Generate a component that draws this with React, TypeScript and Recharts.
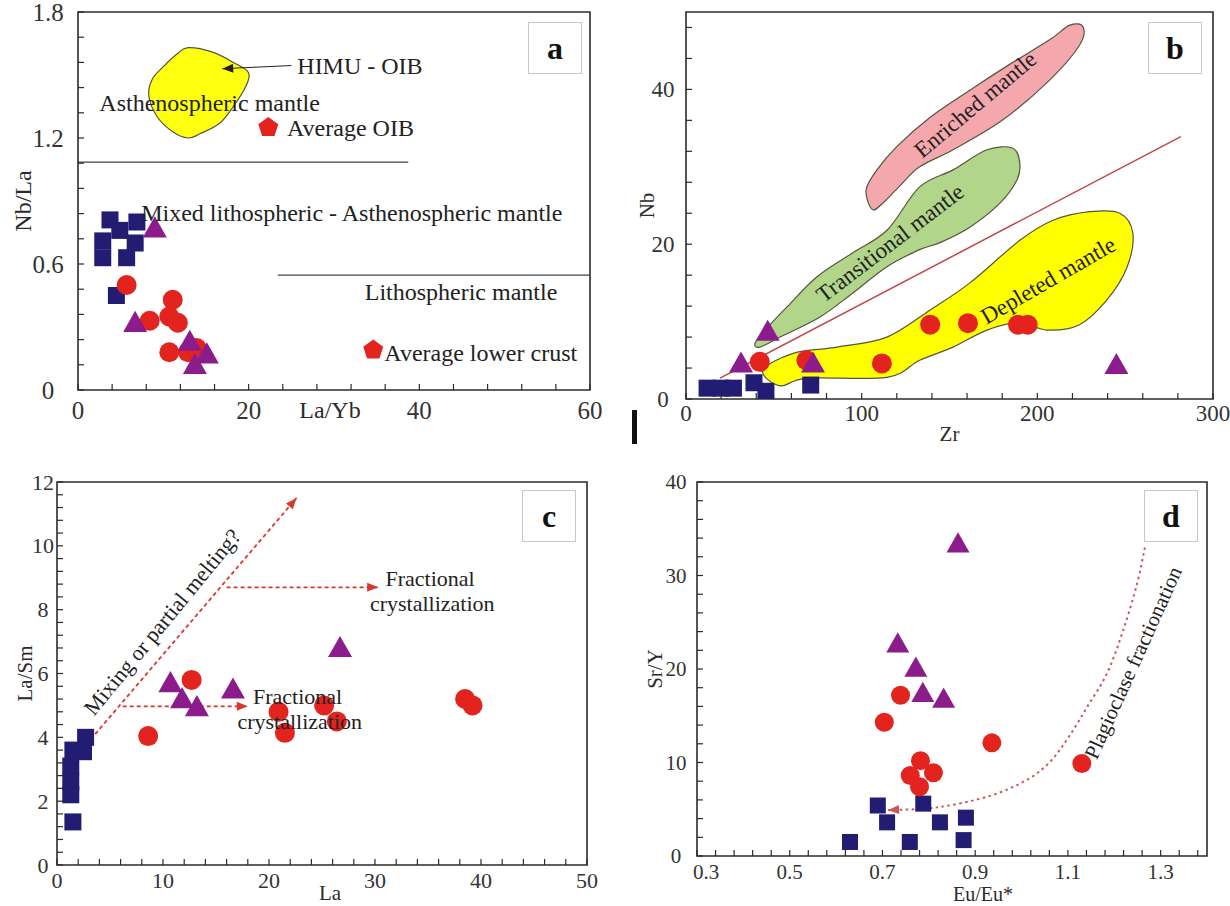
import React from 'react';
import {
  ScatterChart, Scatter, XAxis, YAxis, ReferenceDot, ReferenceArea, ReferenceLine, Label,
} from 'recharts';

type Pt = { x: number; y: number };

const FONT = '"Liberation Serif", "Times New Roman", serif';
const INK = '#2b2b2b';
const NAVY = '#221d72';
const PURPLE = '#8c1c8b';
const RED = '#e3231d';
const DASH_RED = '#d7372f';
const OUTLINE = '#55553f';

// ---------- (a) Nb/La vs La/Yb ----------
const aSquares: Pt[] = [
  { x: 3.75, y: 0.81 }, { x: 6.9, y: 0.8 }, { x: 4.9, y: 0.76 }, { x: 2.9, y: 0.71 },
  { x: 6.7, y: 0.7 }, { x: 2.9, y: 0.63 }, { x: 5.7, y: 0.63 }, { x: 4.5, y: 0.45 },
];
const aTriangles: Pt[] = [
  { x: 9.0, y: 0.77 }, { x: 6.7, y: 0.32 }, { x: 13.1, y: 0.23 }, { x: 15.1, y: 0.17 }, { x: 13.7, y: 0.12 },
];
const aCircles: Pt[] = [
  { x: 5.7, y: 0.5 }, { x: 11.1, y: 0.43 }, { x: 8.4, y: 0.33 }, { x: 10.7, y: 0.35 },
  { x: 11.7, y: 0.32 }, { x: 10.7, y: 0.18 }, { x: 12.9, y: 0.18 }, { x: 13.9, y: 0.2 },
];
const aReferences: Pt[] = [{ x: 22.3, y: 1.25 }, { x: 34.6, y: 0.19 }];
const aHimuOutline: Pt[] = [
  { x: 12.9, y: 1.63 }, { x: 15.7, y: 1.61 }, { x: 18.2, y: 1.56 }, { x: 20.0, y: 1.51 },
  { x: 19.6, y: 1.44 }, { x: 18.2, y: 1.35 }, { x: 16.6, y: 1.27 }, { x: 14.3, y: 1.22 },
  { x: 12.9, y: 1.2 }, { x: 11.1, y: 1.23 }, { x: 9.3, y: 1.3 }, { x: 8.3, y: 1.4 },
  { x: 8.7, y: 1.48 }, { x: 10.0, y: 1.54 }, { x: 11.6, y: 1.6 },
];
const aHimuArrow: Pt[] = [{ x: 25.0, y: 1.545 }, { x: 16.9, y: 1.53 }];
const aUpperBoundary: Pt[] = [{ x: 0, y: 1.085 }, { x: 38.7, y: 1.085 }];
const aLowerBoundary: Pt[] = [{ x: 23.4, y: 0.547 }, { x: 60, y: 0.547 }];
const aXLabels = [0, 20, 40, 60];
const aYLabels = [0, 0.6, 1.2, 1.8];

// ---------- (b) Nb vs Zr ----------
const bSquares: Pt[] = [
  { x: 12, y: 1.4 }, { x: 20, y: 1.4 }, { x: 27, y: 1.4 }, { x: 38.7, y: 2.1 }, { x: 45.5, y: 1.0 }, { x: 71, y: 1.8 },
];
const bTriangles: Pt[] = [{ x: 46.5, y: 8.7 }, { x: 31.3, y: 4.6 }, { x: 72.3, y: 4.6 }, { x: 245, y: 4.4 }];
const bCircles: Pt[] = [
  { x: 42, y: 4.8 }, { x: 68.5, y: 5.0 }, { x: 111.5, y: 4.6 }, { x: 139, y: 9.6 },
  { x: 160.5, y: 9.8 }, { x: 189, y: 9.6 }, { x: 194.5, y: 9.6 },
];
const bEnriched: Pt[] = [
  { x: 106, y: 24.5 }, { x: 102.5, y: 27 }, { x: 108.7, y: 29.6 }, { x: 120, y: 32.6 }, { x: 139, y: 36.4 },
  { x: 161.6, y: 39.9 }, { x: 184, y: 43.2 }, { x: 207, y: 46.4 }, { x: 218.5, y: 48.3 }, { x: 226, y: 48.1 },
  { x: 224, y: 45.7 }, { x: 207, y: 41.2 }, { x: 180, y: 36 }, { x: 152, y: 32.2 }, { x: 133, y: 30 },
  { x: 122, y: 27.6 }, { x: 112, y: 25.3 },
];
const bTransitional: Pt[] = [
  { x: 39.3, y: 7.2 }, { x: 45, y: 8.9 }, { x: 57.5, y: 11.9 }, { x: 74.6, y: 15.8 }, { x: 95, y: 18.9 },
  { x: 114.4, y: 21.8 }, { x: 133, y: 27.4 }, { x: 152, y: 29.6 }, { x: 171.3, y: 32.2 }, { x: 186, y: 32.4 },
  { x: 190, y: 30.5 }, { x: 188.4, y: 28.3 }, { x: 178.7, y: 25.3 }, { x: 161.6, y: 22.2 }, { x: 144.6, y: 20.2 },
  { x: 133, y: 19.3 }, { x: 114.4, y: 17.1 }, { x: 95, y: 13.7 }, { x: 76.3, y: 10.6 }, { x: 53.5, y: 8 },
  { x: 42, y: 6.7 },
];
const bDepleted: Pt[] = [
  { x: 43.8, y: 3.7 }, { x: 61, y: 5.9 }, { x: 86, y: 6.7 }, { x: 114.4, y: 8 }, { x: 139, y: 11.5 },
  { x: 161.6, y: 15 }, { x: 190, y: 20.5 }, { x: 209, y: 23.1 }, { x: 230, y: 24.2 }, { x: 247, y: 24 },
  { x: 254.4, y: 21.4 }, { x: 251, y: 17 }, { x: 239.6, y: 12.8 }, { x: 224, y: 9.6 }, { x: 205.5, y: 8.9 },
  { x: 190, y: 9.9 }, { x: 171.3, y: 8.9 }, { x: 152, y: 6.7 }, { x: 133, y: 5 }, { x: 114.4, y: 2.8 },
  { x: 69, y: 2.7 }, { x: 53.5, y: 1.7 },
];
const bDivide: Pt[] = [{ x: 19.4, y: 2.7 }, { x: 281.7, y: 33.9 }];
const bXLabels = [0, 100, 200, 300];
const bYLabels = [0, 20, 40];

// ---------- (c) La/Sm vs La ----------
const cSquares: Pt[] = [
  { x: 2.7, y: 4.0 }, { x: 1.5, y: 3.6 }, { x: 2.5, y: 3.55 }, { x: 1.3, y: 3.1 },
  { x: 1.3, y: 2.6 }, { x: 1.3, y: 2.2 }, { x: 1.5, y: 1.35 },
];
const cTriangles: Pt[] = [
  { x: 10.7, y: 5.7 }, { x: 11.8, y: 5.2 }, { x: 13.2, y: 4.95 }, { x: 16.6, y: 5.5 }, { x: 26.7, y: 6.8 },
];
const cCircles: Pt[] = [
  { x: 12.7, y: 5.8 }, { x: 8.6, y: 4.04 }, { x: 20.9, y: 4.8 }, { x: 21.5, y: 4.14 },
  { x: 25.2, y: 5.0 }, { x: 26.4, y: 4.5 }, { x: 38.5, y: 5.2 }, { x: 39.2, y: 5.0 },
];
const cMixingTrend: Pt[] = [{ x: 3.6, y: 4.1 }, { x: 22.6, y: 11.5 }];
const cUpperFc: Pt[] = [{ x: 16.0, y: 8.7 }, { x: 30.3, y: 8.7 }];
const cLowerFc: Pt[] = [{ x: 6.2, y: 4.97 }, { x: 18.0, y: 4.97 }];
const cXLabels = [0, 10, 20, 30, 40, 50];
const cYLabels = [0, 2, 4, 6, 8, 10, 12];

// ---------- (d) Sr/Y vs Eu/Eu* ----------
const dSquares: Pt[] = [
  { x: 0.69, y: 5.4 }, { x: 0.71, y: 3.6 }, { x: 0.788, y: 5.6 }, { x: 0.824, y: 3.6 },
  { x: 0.88, y: 4.1 }, { x: 0.63, y: 1.5 }, { x: 0.759, y: 1.5 }, { x: 0.875, y: 1.7 },
];
const dTriangles: Pt[] = [
  { x: 0.733, y: 22.7 }, { x: 0.772, y: 20.1 }, { x: 0.787, y: 17.4 }, { x: 0.832, y: 16.8 }, { x: 0.863, y: 33.4 },
];
const dCircles: Pt[] = [
  { x: 0.739, y: 17.2 }, { x: 0.704, y: 14.3 }, { x: 0.782, y: 10.2 }, { x: 0.76, y: 8.6 },
  { x: 0.81, y: 8.9 }, { x: 0.78, y: 7.4 }, { x: 0.936, y: 12.1 }, { x: 1.13, y: 9.9 },
];
const dPlagioclase: Pt[] = [
  { x: 1.266, y: 33 }, { x: 1.249, y: 29.1 }, { x: 1.219, y: 24.1 }, { x: 1.184, y: 19.5 },
  { x: 1.141, y: 15.9 }, { x: 1.1, y: 12.6 }, { x: 1.06, y: 10.0 }, { x: 1.01, y: 8.1 },
  { x: 0.93, y: 6.4 }, { x: 0.818, y: 5.2 }, { x: 0.712, y: 4.9 },
];
const dXLabels = [0.3, 0.5, 0.7, 0.9, 1.1, 1.3];
const dYLabels = [0, 10, 20, 30, 40];

// minor + major tick positions
const steps = (from: number, to: number, step: number) => {
  const out: number[] = [];
  for (let v = from; v <= to + step / 2; v += step) out.push(Math.round(v * 1e6) / 1e6);
  return out;
};

const isIn = (list: number[], v: number) => list.some((m) => Math.abs(m - v) < 1e-9);

// ticks point into the plot, labels sit outside (centred in the gutter)
const yTick = (labels: number[], size: number, center: number) => (p: any) => (
  <g>
    <line x1={p.x} x2={p.x + 6} y1={p.y} y2={p.y} stroke={INK} strokeWidth={1.2} />
    {isIn(labels, p.payload.value) && (
      <text x={p.x - center} y={p.y} textAnchor="middle" dominantBaseline="central"
        fontSize={size} fontFamily={FONT} fill="#333">{p.payload.value}</text>
    )}
  </g>
);

// firstShift nudges the label at the left end of the axis
const xTick = (labels: number[], size: number, gap: number, firstShift = 0) => (p: any) => (
  <g>
    <line x1={p.x} x2={p.x} y1={p.y} y2={p.y - 6} stroke={INK} strokeWidth={1.2} />
    {isIn(labels, p.payload.value) && (
      <text x={p.x + (p.payload.value === labels[0] ? firstShift : 0)} y={p.y + gap} textAnchor="middle"
        dominantBaseline="central" fontSize={size} fontFamily={FONT} fill="#333">{p.payload.value}</text>
    )}
  </g>
);

// Catmull-Rom through the given pixel points
const smoothPath = (pts: Pt[], closed: boolean) => {
  const n = pts.length;
  const at = (i: number) => (closed ? pts[(i + n) % n] : pts[Math.max(0, Math.min(n - 1, i))]);
  let d = `M${pts[0].x},${pts[0].y}`;
  const segs = closed ? n : n - 1;
  for (let i = 0; i < segs; i++) {
    const p0 = at(i - 1), p1 = at(i), p2 = at(i + 1), p3 = at(i + 2);
    const c1x = p1.x + (p2.x - p0.x) / 6, c1y = p1.y + (p2.y - p0.y) / 6;
    const c2x = p2.x - (p3.x - p1.x) / 6, c2y = p2.y - (p3.y - p1.y) / 6;
    d += ` C${c1x},${c1y} ${c2x},${c2y} ${p2.x},${p2.y}`;
  }
  return closed ? d + 'Z' : d;
};

const headPoints = (a: Pt, b: Pt, len: number, w: number) => {
  const dx = b.x - a.x, dy = b.y - a.y;
  const l = Math.hypot(dx, dy) || 1;
  const ux = dx / l, uy = dy / l;
  const bx = b.x - ux * len, by = b.y - uy * len;
  return `${b.x},${b.y} ${bx - uy * w},${by + ux * w} ${bx + uy * w},${by - ux * w}`;
};

// marker shapes
const hidden = () => <g />;
const square = (s: number) => (p: any) => (
  <rect x={p.cx - s / 2} y={p.cy - s / 2} width={s} height={s} fill={NAVY} />
);
const circle = (r: number) => (p: any) => <circle cx={p.cx} cy={p.cy} r={r} fill={RED} />;
const triangle = (w: number) => (p: any) => (
  <polygon points={`${p.cx},${p.cy - w * 0.5} ${p.cx - w / 2},${p.cy + w * 0.38} ${p.cx + w / 2},${p.cy + w * 0.38}`} fill={PURPLE} />
);
const pentagon = (p: any) => {
  const pts = [0, 1, 2, 3, 4]
    .map((i) => {
      const a = -Math.PI / 2 + (i * 2 * Math.PI) / 5;
      return `${p.cx + 10.5 * Math.cos(a)},${p.cy + 10.5 * Math.sin(a)}`;
    })
    .join(' ');
  return <polygon points={pts} fill={RED} />;
};

const points = (key: string, data: Pt[], shape: (p: any) => React.ReactElement) => (
  <Scatter key={key} data={data} shape={shape} isAnimationActive={false} />
);

const region = (key: string, data: Pt[], fill: string) => (
  <Scatter key={key} data={data} shape={hidden} isAnimationActive={false}
    line={(lp: any) => (
      <path d={smoothPath(lp.points, true)} fill={fill} stroke={OUTLINE} strokeWidth={1.2} />
    )} />
);

type PathOpts = { stroke: string; width: number; dash?: string; head?: boolean; smooth?: boolean };
const trend = (key: string, data: Pt[], o: PathOpts) => (
  <Scatter key={key} data={data} shape={hidden} isAnimationActive={false}
    line={(lp: any) => {
      const pts: Pt[] = lp.points;
      const n = pts.length;
      const d = o.smooth ? smoothPath(pts, false) : pts.map((q, i) => `${i ? 'L' : 'M'}${q.x},${q.y}`).join(' ');
      return (
        <g>
          <path d={d} fill="none" stroke={o.stroke} strokeWidth={o.width} strokeDasharray={o.dash} />
          {o.head && <polygon points={headPoints(pts[n - 2], pts[n - 1], 11, 4.5)} fill={o.stroke} />}
        </g>
      );
    }} />
);

const boundary = (key: string, seg: Pt[], stroke: string, width: number) => (
  <ReferenceLine key={key} segment={[seg[0], seg[1]]} stroke={stroke} strokeWidth={width} ifOverflow="visible" />
);

const note = (key: string, x: number, y: number, text: string, size: number, angle = 0, start = false) => (
  <ReferenceDot key={key} x={x} y={y} r={0} fill="none" stroke="none" ifOverflow="visible"
    label={{ value: text, position: start ? 'right' : 'center', offset: 0, angle, fontSize: size, fontFamily: FONT, fill: '#222' }} />
);

const frame = (x: [number, number], y: [number, number]) => (
  <ReferenceArea x1={x[0]} x2={x[1]} y1={y[0]} y2={y[1]} fill="none" stroke={INK} strokeWidth={1.6} ifOverflow="visible" />
);

const Tag = ({ left, top, text }: { left: number; top: number; text: string }) => (
  <div style={{
    position: 'absolute', left, top, width: 54, height: 52, boxSizing: 'border-box',
    border: '1px solid #c9c9c9', background: '#fff', display: 'flex', alignItems: 'center',
    justifyContent: 'center', font: `bold 32px ${FONT}`, color: '#111', lineHeight: 1,
  }}>{text}</div>
);

const axisCommon = {
  type: 'number' as const,
  dataKey: 'y',
  tickSize: 0,
  tickMargin: 0,
  axisLine: false,
  tickLine: false,
  interval: 0 as const,
  allowDataOverflow: true,
};

const PanelA = () => (
  <ScatterChart width={610} height={430} margin={{ top: 12, right: 20, bottom: 0, left: 0 }}>
    <XAxis {...axisCommon} dataKey="x" domain={[0, 60]} ticks={steps(0, 60, 4)} height={40} tick={xTick(aXLabels, 25, 20)}>
      <Label value="La/Yb" position="insideBottom" offset={12} dx={-4} fontSize={24} fontFamily={FONT} fill={INK} />
    </XAxis>
    <YAxis {...axisCommon} domain={[0, 1.8]} ticks={steps(0, 1.8, 0.12)} width={78} tick={yTick(aYLabels, 25, 30)}>
      <Label value="Nb/La" position="insideLeft" angle={-90} offset={22} fontSize={24} fontFamily={FONT} fill={INK} style={{ textAnchor: 'middle' }} />
    </YAxis>
    {frame([0, 60], [0, 1.8])}
    {boundary('upper', aUpperBoundary, '#444', 1.2)}
    {boundary('lower', aLowerBoundary, '#444', 1.2)}
    {region('himu', aHimuOutline, '#ffff10')}
    {trend('himu-arrow', aHimuArrow, { stroke: '#222', width: 1, head: true })}
    {note('n1', 25.7, 1.543, 'HIMU - OIB', 24, 0, true)}
    {note('n2', 2.5, 1.367, 'Asthenospheric mantle', 24, 0, true)}
    {note('n3', 24.5, 1.248, 'Average OIB', 24, 0, true)}
    {note('n4', 7.4, 0.843, 'Mixed lithospheric - Asthenospheric mantle', 24, 0, true)}
    {note('n5', 33.6, 0.467, 'Lithospheric mantle', 24, 0, true)}
    {note('n6', 35.9, 0.181, 'Average lower crust', 24, 0, true)}
    {points('ref', aReferences, pentagon)}
    {points('sq', aSquares, square(17))}
    {points('ci', aCircles, circle(10))}
    {points('tr', aTriangles, triangle(24))}
  </ScatterChart>
);

const PanelB = () => (
  <ScatterChart width={620} height={450} margin={{ top: 12, right: 17, bottom: 0, left: 0 }}>
    <XAxis {...axisCommon} dataKey="x" domain={[0, 300]} ticks={steps(0, 300, 20)} height={51} tick={xTick(bXLabels, 23, 14)}>
      <Label value="Zr" position="insideBottom" offset={9} fontSize={21} fontFamily={FONT} fill={INK} />
    </XAxis>
    <YAxis {...axisCommon} domain={[0, 50]} ticks={steps(0, 48, 4)} width={76} tick={yTick(bYLabels, 23, 23)}>
      <Label value="Nb" position="insideLeft" angle={-90} offset={37} fontSize={21} fontFamily={FONT} fill={INK} style={{ textAnchor: 'middle' }} />
    </YAxis>
    {frame([0, 300], [0, 50])}
    {region('enriched', bEnriched, '#f4a7ad')}
    {region('transitional', bTransitional, '#b1d68a')}
    {region('depleted', bDepleted, '#ffff00')}
    {boundary('divide', bDivide, '#c0464a', 1.5)}
    {note('e', 164.5, 38.1, 'Enriched mantle', 23, -40)}
    {note('t', 116, 20.2, 'Transitional mantle', 23, -37.5)}
    {note('d', 206, 15.4, 'Depleted mantle', 23, -30)}
    {points('sq', bSquares, square(17))}
    {points('ci', bCircles, circle(10))}
    {points('tr', bTriangles, triangle(24))}
  </ScatterChart>
);

const PanelC = () => (
  <ScatterChart width={600} height={456} margin={{ top: 32, right: 13, bottom: 0, left: 0 }}>
    <XAxis {...axisCommon} dataKey="x" domain={[0, 50]} ticks={steps(0, 50, 2)} height={41} tick={xTick(cXLabels, 22, 15)}>
      <Label value="La" position="insideBottom" offset={6} dx={8} fontSize={21} fontFamily={FONT} fill={INK} />
    </XAxis>
    <YAxis {...axisCommon} domain={[0, 12]} ticks={steps(0, 12, 0.4)} width={57} tick={yTick(cYLabels, 22, 14)}>
      <Label value="La/Sm" position="insideLeft" angle={-90} offset={25} fontSize={21} fontFamily={FONT} fill={INK} style={{ textAnchor: 'middle' }} />
    </YAxis>
    {frame([0, 50], [0, 12])}
    {trend('mix', cMixingTrend, { stroke: DASH_RED, width: 1.8, dash: '4 3', head: true })}
    {trend('fc-up', cUpperFc, { stroke: DASH_RED, width: 1.8, dash: '4 3', head: true })}
    {trend('fc-low', cLowerFc, { stroke: DASH_RED, width: 1.8, dash: '4 3', head: true })}
    {note('m', 9.9, 7.62, 'Mixing or partial melting?', 22, -50.6)}
    {note('f1', 35.2, 9.0, 'Fractional', 22)}
    {note('f2', 35.4, 8.2, 'crystallization', 22)}
    {note('f3', 22.7, 5.3, 'Fractional', 22)}
    {note('f4', 22.9, 4.51, 'crystallization', 22)}
    {points('sq', cSquares, square(17))}
    {points('ci', cCircles, circle(10))}
    {points('tr', cTriangles, triangle(24))}
  </ScatterChart>
);

const PanelD = () => (
  <ScatterChart width={620} height={456} margin={{ top: 32, right: 23, bottom: 0, left: 0 }}>
    <XAxis {...axisCommon} dataKey="x" domain={[0.3, 1.4]} ticks={steps(0.3, 1.38, 0.04)} height={50} tick={xTick(dXLabels, 21, 16, 9)}>
      <Label value="Eu/Eu*" position="insideBottom" offset={5} dx={31} fontSize={20} fontFamily={FONT} fill={INK} />
    </XAxis>
    <YAxis {...axisCommon} domain={[0, 40]} ticks={steps(0, 40, 2)} width={87} tick={yTick(dYLabels, 21, 21)}>
      <Label value="Sr/Y" position="insideLeft" angle={-90} offset={45} fontSize={21} fontFamily={FONT} fill={INK} style={{ textAnchor: 'middle' }} />
    </YAxis>
    {frame([0.3, 1.4], [0, 40])}
    {trend('plag', dPlagioclase, { stroke: '#c9575e', width: 2, dash: '2.5 3.5', head: true, smooth: true })}
    {note('p', 1.24, 20.7, 'Plagioclase fractionation', 21, -65.7)}
    {points('sq', dSquares, square(16))}
    {points('ci', dCircles, circle(9.5))}
    {points('tr', dTriangles, triangle(23))}
  </ScatterChart>
);

export default function App() {
  return (
    <div style={{ position: 'absolute', left: 0, top: 0, width: 1230, height: 906, background: '#fff', overflow: 'hidden' }}>
      <div style={{ position: 'absolute', left: 0, top: 0 }}><PanelA /></div>
      <div style={{ position: 'absolute', left: 610, top: 0 }}><PanelB /></div>
      <div style={{ position: 'absolute', left: 0, top: 450 }}><PanelC /></div>
      <div style={{ position: 'absolute', left: 610, top: 450 }}><PanelD /></div>
      <Tag left={528} top={22} text="a" />
      <Tag left={1148} top={22} text="b" />
      <Tag left={522} top={490} text="c" />
      <Tag left={1144} top={490} text="d" />
      <div style={{ position: 'absolute', left: 632, top: 410, width: 5, height: 34, background: '#111' }} />
    </div>
  );
}
